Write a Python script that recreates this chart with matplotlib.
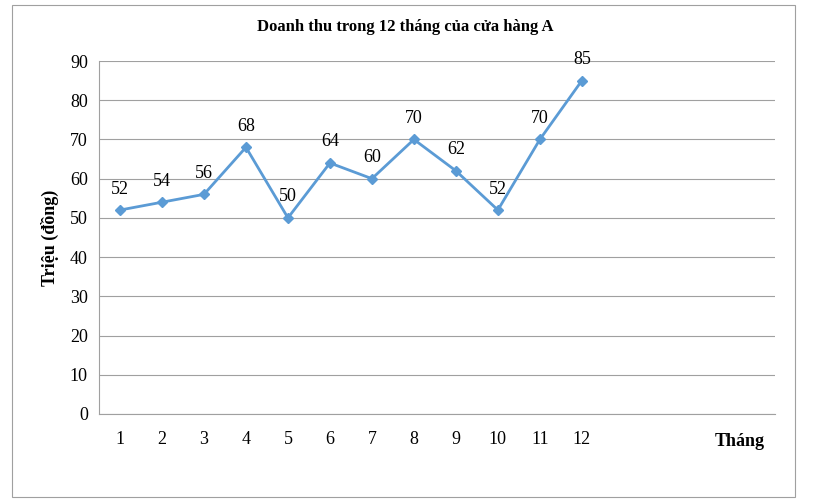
import matplotlib.pyplot as plt
from matplotlib.patches import Rectangle

months = [1, 2, 3, 4, 5, 6, 7, 8, 9, 10, 11, 12]
revenue = [52, 54, 56, 68, 50, 64, 60, 70, 62, 52, 70, 85]

plt.rcParams['font.family'] = 'Liberation Serif'

fig = plt.figure(figsize=(8.32, 5.03), dpi=100)
ax = fig.add_axes([99/832, 1-414/503, (775-99)/832, (414-61)/503])

# khung viền quanh biểu đồ
fig.patches.append(Rectangle((12/832, 1-497/503), 783/832, 492/503,
                             transform=fig.transFigure, fill=False,
                             edgecolor='#a0a0a0', linewidth=0.8))

ax.plot(months, revenue, color='#5b9bd5', linewidth=2, marker='D', markersize=5)
for m, v in zip(months, revenue):
    ax.annotate(str(v), (m, v), xytext=(0, 9), textcoords='offset points',
                ha='center', va='bottom', fontsize=13)

ax.set_xlim(0.5, 16.6)
ax.set_ylim(0, 90)
ax.set_xticks(months)
ax.set_yticks(range(0, 91, 10))
ax.tick_params(axis='both', length=0, labelsize=13, pad=8)
ax.tick_params(axis='x', pad=12)
ax.grid(axis='y', color='#a0a0a0', linewidth=0.8)
ax.set_axisbelow(True)
for s in ['top', 'right']:
    ax.spines[s].set_visible(False)
ax.spines['left'].set_color('#a0a0a0')
ax.spines['bottom'].set_color('#a0a0a0')

fig.text(405/832, 1-27/503, 'Doanh thu trong 12 tháng của cửa hàng A',
         ha='center', va='center', fontsize=12, fontweight='bold')
ax.set_ylabel('Triệu (đồng)', fontsize=13, fontweight='bold', labelpad=8)
fig.text(740/832, 1-441/503, 'Tháng', ha='center', va='center',
         fontsize=13, fontweight='bold')

fig.savefig('out.png', dpi=100)
